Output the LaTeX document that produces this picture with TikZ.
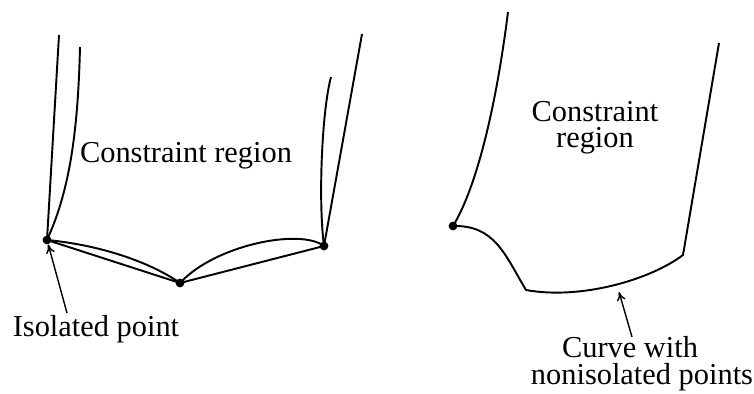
\documentclass[tikz,border=0pt]{standalone}
\usepackage{fontspec}
\setmainfont{Liberation Serif}
\usetikzlibrary{arrows, arrows.meta}

\begin{document}
\begin{tikzpicture}[>={To[length=5pt,width=5pt]}, x=0.02cm, y=-0.02cm, font=\fontsize{17.3}{15}\selectfont,
  edge/.style={line width=1.1pt},
  pointer/.style={line width=0.8pt, ->},
  dot/.style={circle, fill, inner sep=0pt, minimum size=5pt},
  lbl/.style={anchor=base, inner sep=0pt}]

\useasboundingbox (0,0) rectangle (754,394);

% left picture: three isolated points
\node[dot] (isoA) at (47,240) {};
\node[dot] (isoB) at (180,283) {};
\node[dot] (isoC) at (324,246) {};

\draw[edge] (59,35)--(isoA.center);
\draw[edge] (80,47) .. controls (78,130) and (70,190) .. (isoA.center);
\draw[edge] (362,34)--(isoC.center);
\draw[edge] (331,77) .. controls (322,110) and (318,200) .. (isoC.center);

\draw[edge] (isoA.center)--(isoB.center)--(isoC.center);
\draw[edge] (isoA.center) .. controls (100,245) and (150,262) .. (isoB.center);
\draw[edge] (isoB.center) .. controls (215,245) and (300,228) .. (isoC.center);

\node[lbl] (regionL) at (186,163) {Constraint region};
\node[lbl] (isolbl) at (96,337) {Isolated point};
\coordinate (isotail) at (67,313);
\draw[pointer] (isotail)--(isoA);

% right picture: boundary curve
\node[dot] (cornD) at (453,226) {};
\coordinate (cornE) at (526,290);
\coordinate (cornF) at (683,255);
\coordinate (curvept) at (619,292);

\draw[edge] (508,12) .. controls (497,100) and (478,185) .. (cornD.center);
\draw[edge] (cornD.center) .. controls (495,225) and (505,255) .. (cornE)
  .. controls (580,300) and (650,280) .. (cornF)--(719,43);

\node[lbl, align=center] (regionR) at (595,148) {Constraint\\region};
\node[lbl] (curvelbl) at (630,358) {Curve with};
\node[lbl] (curvelbl2) at (642,385) {nonisolated points};
\coordinate (curvetail) at (632,337);
\draw[pointer] (curvetail)--(curvept);

\end{tikzpicture}
\end{document}
